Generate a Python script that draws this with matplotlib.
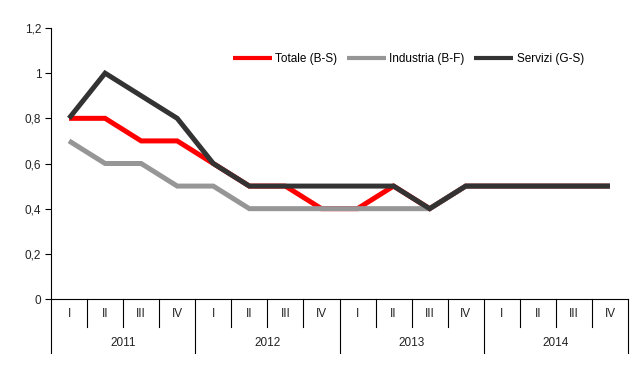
import matplotlib
matplotlib.use("Agg")
import matplotlib.pyplot as plt
from matplotlib import font_manager

names = {f.name for f in font_manager.fontManager.ttflist}
fam = "Liberation Sans Narrow" if "Liberation Sans Narrow" in names else "Liberation Sans"
plt.rcParams['font.family'] = [fam, 'DejaVu Sans']

years = ["2011", "2012", "2013", "2014"]
quarters = ["I", "II", "III", "IV"]
totale = [0.8, 0.8, 0.7, 0.7, 0.6, 0.5, 0.5, 0.4, 0.4, 0.5, 0.4, 0.5, 0.5, 0.5, 0.5, 0.5]
industria = [0.7, 0.6, 0.6, 0.5, 0.5, 0.4, 0.4, 0.4, 0.4, 0.4, 0.4, 0.5, 0.5, 0.5, 0.5, 0.5]
servizi = [0.8, 1.0, 0.9, 0.8, 0.6, 0.5, 0.5, 0.5, 0.5, 0.5, 0.4, 0.5, 0.5, 0.5, 0.5, 0.5]
yticks = [0, 0.2, 0.4, 0.6, 0.8, 1.0, 1.2]

fig = plt.figure(figsize=(6.42, 3.89), dpi=100)
ax = fig.add_axes([51/642, (389-299)/389, (628-51)/642, (299-28)/389])

n = len(totale)
xs = [i + 0.5 for i in range(n)]
lw = 3.6
ax.plot(xs, totale, color="#ff0000", lw=lw, label="Totale (B-S)", solid_joinstyle="miter", solid_capstyle="butt")
ax.plot(xs, industria, color="#969696", lw=lw, label="Industria (B-F)", solid_joinstyle="miter", solid_capstyle="butt")
ax.plot(xs, servizi, color="#333333", lw=lw, label="Servizi (G-S)", solid_joinstyle="miter", solid_capstyle="butt")

ax.set_xlim(0, n)
ax.set_ylim(0, 1.2)
ax.set_yticks(yticks)
ax.set_yticklabels([("%g" % v).replace(".", ",") for v in yticks], fontsize=8.5, color="#222222")
ax.tick_params(axis="y", length=4, width=0.8, direction="out", pad=3)
ax.set_xticks([])
for s in ["top", "right"]:
    ax.spines[s].set_visible(False)
ax.spines["left"].set_linewidth(0.8)
ax.spines["bottom"].set_linewidth(0.8)

tr = ax.get_xaxis_transform()
for i in range(n + 1):
    bottom = -0.199 if i % 4 == 0 else -0.103
    ax.plot([i, i], [0, bottom], transform=tr, color="black", lw=0.8, clip_on=False)
for i in range(n):
    ax.text(i + 0.5, -0.055, quarters[i % 4], transform=tr, ha="center", va="center", fontsize=8.5, color="#222222")
for j, y in enumerate(years):
    ax.text(j * 4 + 2, -0.162, y, transform=tr, ha="center", va="center", fontsize=8.5, color="#222222")

leg = ax.legend(loc="center left", bbox_to_anchor=(0.315, 0.886), ncol=3, frameon=False,
                fontsize=8.5, handlelength=3.3, handletextpad=0.3, columnspacing=0.8,
                borderaxespad=0, borderpad=0)
for h in leg.get_lines():
    h.set_linewidth(3)

fig.savefig("out.png", dpi=100)
